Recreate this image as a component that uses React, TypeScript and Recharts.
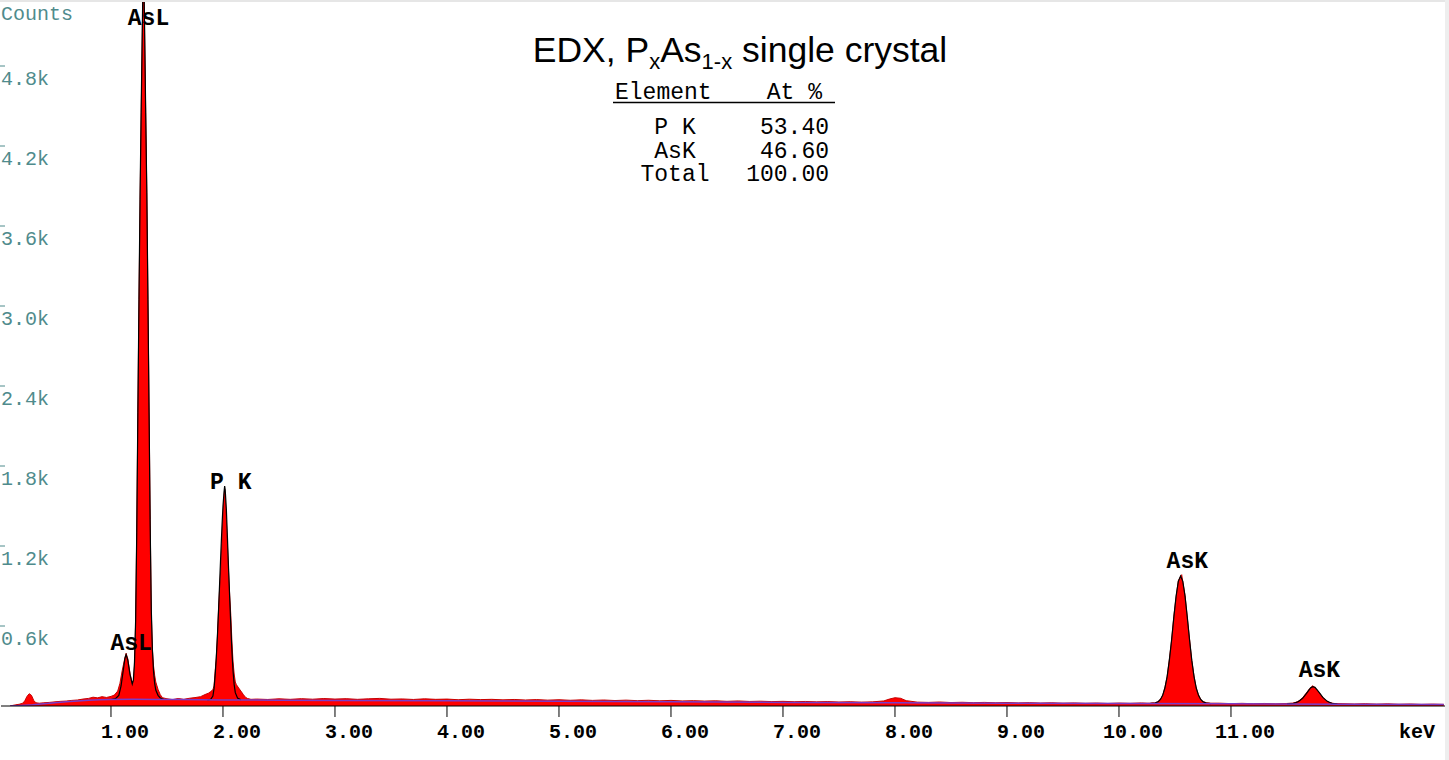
import { ComposedChart, Area, Line, XAxis, YAxis, ReferenceDot } from "recharts";

// measured spectrum, [keV, counts]
const spectrum: [number, number][] = [
  [0.1, 0], [0.12, 4], [0.15, 9], [0.18, 13], [0.21, 20], [0.23, 38], [0.25, 72], [0.27, 92], [0.29, 80],
  [0.31, 42], [0.33, 24], [0.36, 21], [0.4, 24], [0.45, 27], [0.5, 31], [0.55, 35], [0.6, 37], [0.65, 42],
  [0.7, 45], [0.75, 52], [0.8, 57], [0.84, 66], [0.88, 61], [0.92, 70], [0.96, 64], [1.0, 72], [1.03, 82],
  [1.06, 112], [1.08, 170], [1.1, 265], [1.12, 345], [1.135, 395], [1.15, 355], [1.17, 245], [1.19, 168],
  [1.2, 180], [1.21, 300], [1.22, 620], [1.23, 1300], [1.24, 2200], [1.25, 3050], [1.26, 3800], [1.27, 4450],
  [1.28, 5050], [1.29, 5600], [1.3, 5050], [1.31, 4450], [1.32, 3850], [1.33, 3050], [1.34, 2250], [1.35, 1400],
  [1.36, 700], [1.37, 420], [1.38, 300], [1.39, 230], [1.4, 180], [1.42, 125], [1.44, 85], [1.46, 62],
  [1.5, 54], [1.55, 48], [1.6, 56], [1.65, 50], [1.7, 58], [1.75, 63], [1.8, 70], [1.84, 86], [1.87, 96],
  [1.89, 108], [1.91, 122], [1.92, 150], [1.93, 260], [1.94, 360], [1.95, 520], [1.96, 720], [1.97, 880],
  [1.98, 1020], [1.99, 1220], [2.0, 1420], [2.01, 1580], [2.015, 1625], [2.02, 1570], [2.03, 1400], [2.04, 1200],
  [2.05, 1000], [2.06, 830], [2.07, 680], [2.08, 480], [2.09, 330], [2.1, 240], [2.11, 180], [2.12, 160],
  [2.14, 135], [2.16, 112], [2.18, 88], [2.2, 66], [2.22, 56], [2.25, 50],
  [2.3, 52], [2.4, 49], [2.5, 54], [2.6, 50], [2.7, 55], [2.8, 51], [2.9, 56], [3.0, 52], [3.1, 55], [3.2, 50],
  [3.3, 54], [3.4, 57], [3.5, 51], [3.6, 53], [3.7, 49], [3.8, 54], [3.9, 50], [4.0, 52], [4.1, 47], [4.2, 51],
  [4.3, 48], [4.4, 50], [4.5, 46], [4.6, 49], [4.7, 45], [4.8, 48], [4.9, 44], [5.0, 47], [5.1, 43], [5.2, 46],
  [5.3, 42], [5.4, 45], [5.5, 41], [5.6, 44], [5.7, 40], [5.8, 43], [5.9, 39], [6.0, 42], [6.1, 38], [6.2, 40],
  [6.3, 37], [6.4, 39], [6.5, 35], [6.6, 38], [6.7, 34], [6.8, 36], [6.9, 33], [7.0, 35], [7.1, 32], [7.2, 34],
  [7.3, 31], [7.4, 33], [7.5, 30], [7.6, 32], [7.7, 29], [7.8, 31], [7.9, 38], [7.95, 52], [8.0, 62], [8.05, 58],
  [8.1, 40], [8.2, 29], [8.3, 27], [8.4, 30], [8.5, 26], [8.6, 28], [8.7, 25], [8.8, 27], [8.9, 24], [9.0, 26],
  [9.1, 23], [9.2, 25], [9.3, 22], [9.4, 24], [9.5, 21], [9.6, 23], [9.7, 20], [9.8, 22], [9.9, 19], [10.0, 22],
  [10.1, 20], [10.2, 23], [10.25, 21],
  [10.28, 21], [10.3, 24], [10.32, 23], [10.35, 34], [10.37, 50], [10.39, 78], [10.41, 138], [10.43, 218],
  [10.45, 350], [10.47, 492], [10.49, 672], [10.51, 818], [10.53, 940], [10.55, 972], [10.56, 985], [10.57, 930],
  [10.59, 828], [10.61, 660], [10.63, 502], [10.65, 340], [10.67, 225], [10.69, 132], [10.71, 84], [10.73, 48],
  [10.75, 33], [10.78, 25], [10.82, 21],
  [10.9, 21], [11.0, 18], [11.1, 20], [11.2, 17], [11.3, 19], [11.4, 16], [11.5, 19], [11.55, 22],
  [11.58, 28], [11.61, 40], [11.64, 62], [11.67, 95], [11.7, 128], [11.73, 152], [11.76, 130], [11.79, 98],
  [11.82, 65], [11.85, 40], [11.88, 26], [11.92, 19],
  [12.0, 17], [12.1, 15], [12.2, 17], [12.3, 14], [12.4, 16], [12.5, 13], [12.6, 15], [12.7, 12], [12.8, 14],
  [12.9, 12],
];

// fitted peak profiles (null = gap between fitted regions)
const fitCurve: [number, number | null][] = [
  [1.0, 49], [1.04, 55], [1.07, 80], [1.09, 150], [1.11, 270], [1.125, 360], [1.135, 385], [1.15, 345],
  [1.17, 235], [1.19, 165], [1.2, 195], [1.21, 330], [1.22, 640], [1.23, 1300], [1.24, 2200], [1.25, 3050],
  [1.26, 3850], [1.27, 4500], [1.28, 5100], [1.29, 5700], [1.3, 5100], [1.31, 4450], [1.32, 3850], [1.33, 3050],
  [1.34, 2200], [1.35, 1350], [1.36, 720], [1.37, 420], [1.38, 260], [1.39, 170], [1.4, 120], [1.42, 80],
  [1.44, 60], [1.47, 50], [1.6, null],
  [1.86, 46], [1.89, 50], [1.91, 75], [1.92, 130], [1.93, 230], [1.94, 360], [1.95, 520], [1.96, 710],
  [1.97, 920], [1.98, 1130], [1.99, 1330], [2.0, 1500], [2.01, 1610], [2.015, 1650], [2.02, 1620], [2.03, 1480],
  [2.04, 1260], [2.05, 1030], [2.06, 810], [2.07, 600], [2.08, 410], [2.09, 260], [2.1, 160], [2.11, 100],
  [2.13, 60], [2.16, 46], [2.3, null],
  [10.28, 19], [10.32, 22], [10.35, 32], [10.37, 49], [10.39, 80], [10.41, 135], [10.43, 221], [10.45, 344],
  [10.47, 497], [10.49, 667], [10.51, 823], [10.53, 935], [10.55, 975], [10.57, 935], [10.59, 823], [10.61, 667],
  [10.63, 497], [10.65, 344], [10.67, 221], [10.69, 135], [10.71, 80], [10.73, 49], [10.75, 32], [10.78, 22],
  [10.82, 18], [11.0, null],
  [11.5, 16], [11.56, 20], [11.6, 32], [11.64, 58], [11.68, 100], [11.71, 135], [11.73, 145], [11.75, 140],
  [11.78, 110], [11.82, 65], [11.86, 35], [11.9, 20], [11.95, 15],
];

// continuum background
const background: [number, number][] = [
  [0.1, 0], [0.2, 4], [0.3, 9], [0.4, 16], [0.5, 24], [0.6, 31], [0.7, 38], [0.8, 43], [0.9, 47], [1.0, 49],
  [1.2, 50], [1.4, 49], [1.6, 48], [1.8, 46], [2.0, 45], [2.5, 44], [3.0, 42], [4.0, 39], [5.0, 35], [6.0, 31],
  [7.0, 27], [8.0, 24], [9.0, 21], [10.0, 19], [11.0, 16], [12.0, 14], [12.9, 12],
];

const xTicks = [1, 2, 3, 4, 5, 6, 7, 8, 9, 10, 11];
const yTicks = [600, 1200, 1800, 2400, 3000, 3600, 4200, 4800];
const yTickLabels = ["0.6k", "1.2k", "1.8k", "2.4k", "3.0k", "3.6k", "4.2k", "4.8k"];

const peakLabels = [
  { text: "AsL", keV: 1.335, counts: 5160 },
  { text: "AsL", keV: 1.18, counts: 472 },
  { text: "P K", keV: 2.07, counts: 1680 },
  { text: "AsK", keV: 10.61, counts: 1088 },
  { text: "AsK", keV: 11.79, counts: 270 },
];

const resultRows = [
  ["P K", "53.40"],
  ["AsK", "46.60"],
  ["Total", "100.00"],
];

const MONO = "'Liberation Mono', 'Courier New', monospace";
const TEAL = "#4f8b8c";

const toPoints = (arr: [number, number | null][]) => arr.map(([keV, counts]) => ({ keV, counts }));

function XTick(props: any) {
  const { x, payload } = props;
  return (
    <g>
      <line x1={x} x2={x} y1={706} y2={717} stroke="#000" strokeWidth={1} />
      <text x={x + 14} y={738} textAnchor="middle" fontFamily={MONO} fontWeight="bold" fontSize={20} fill="#000">
        {payload.value.toFixed(2)}
      </text>
    </g>
  );
}

function YTick(props: any) {
  const { y, payload } = props;
  const idx = yTicks.indexOf(payload.value);
  return (
    <g>
      <line x1={0} x2={5} y1={y} y2={y} stroke={TEAL} strokeWidth={1} />
      <text x={1} y={y + 19} textAnchor="start" fontFamily={MONO} fontSize={20} fill={TEAL}>
        {yTickLabels[idx]}
      </text>
    </g>
  );
}

export default function App() {
  return (
    <div style={{ position: "absolute", left: 0, top: 0, width: 1449, height: 760, background: "#fff" }}>
      <ComposedChart width={1449} height={760} margin={{ top: 0, right: 4, bottom: 0, left: 0 }}>
        <XAxis
          dataKey="keV"
          type="number"
          domain={[0.018, 12.911]}
          allowDataOverflow
          ticks={xTicks}
          tick={<XTick />}
          tickLine={false}
          axisLine={{ stroke: "#000", strokeWidth: 1 }}
          height={54}
        />
        <YAxis
          type="number"
          domain={[0, 5295]}
          allowDataOverflow
          ticks={yTicks}
          interval={0}
          tick={<YTick />}
          tickLine={false}
          axisLine={false}
          width={1}
        />
        <Area
          data={toPoints(spectrum)}
          dataKey="counts"
          type="linear"
          fill="#ff0000"
          fillOpacity={1}
          stroke="#c80000"
          strokeWidth={1}
          dot={false}
          activeDot={false}
          isAnimationActive={false}
        />
        <Line
          data={toPoints(fitCurve)}
          dataKey="counts"
          type="linear"
          stroke="#000"
          strokeWidth={1.2}
          dot={false}
          activeDot={false}
          isAnimationActive={false}
        />
        <Line
          data={toPoints(background)}
          dataKey="counts"
          type="linear"
          stroke="#7a3cc8"
          strokeWidth={1.5}
          dot={false}
          activeDot={false}
          isAnimationActive={false}
        />
        {peakLabels.map((p, i) => (
          <ReferenceDot
            key={i}
            x={p.keV}
            y={p.counts}
            r={0}
            fill="none"
            stroke="none"
            label={(lp: any) => (
              <text
                x={lp.viewBox.x}
                y={lp.viewBox.y + 7}
                textAnchor="middle"
                fontFamily={MONO}
                fontWeight="bold"
                fontSize={23}
                fill="#000"
              >
                {p.text}
              </text>
            )}
          />
        ))}
      </ComposedChart>
      <svg width={1449} height={760} style={{ position: "absolute", left: 0, top: 0, pointerEvents: "none" }}>
        <rect x={0} y={0} width={1449} height={2} fill="#e6e6e6" />
        <rect x={1445} y={0} width={4} height={760} fill="#eeeeee" />
        <text x={1} y={20} fontFamily={MONO} fontSize={20} fill={TEAL}>
          Counts
        </text>
        <text x={1417} y={738} textAnchor="middle" fontFamily={MONO} fontWeight="bold" fontSize={20} fill="#000">
          keV
        </text>
        <text x={740} y={62} textAnchor="middle" fontFamily="'Liberation Sans', Arial, sans-serif" fontSize={35.5} fill="#000">
          EDX, P
          <tspan fontSize={22} dy={7}>x</tspan>
          <tspan dy={-7}>As</tspan>
          <tspan fontSize={22} dy={7}>1-x</tspan>
          <tspan dy={-7}> single crystal</tspan>
        </text>
        <g fontFamily={MONO} fontSize={23} fill="#000">
          <text x={615} y={99}>Element</text>
          <text x={822} y={99} textAnchor="end">At %</text>
          <line x1={613} x2={835} y1={102.5} y2={102.5} stroke="#000" strokeWidth={1.5} />
          {resultRows.map((r, i) => (
            <g key={i}>
              <text x={675} y={134 + i * 23.5} textAnchor="middle">{r[0]}</text>
              <text x={829} y={134 + i * 23.5} textAnchor="end">{r[1]}</text>
            </g>
          ))}
        </g>
      </svg>
    </div>
  );
}
